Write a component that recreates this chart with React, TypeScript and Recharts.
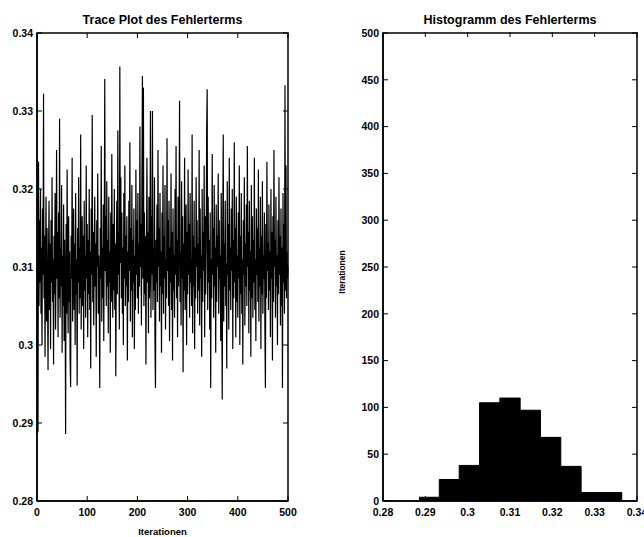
import React from 'react';
import { LineChart, Line, ComposedChart, Area, XAxis, YAxis, ReferenceArea } from 'recharts';

// ---------- data ----------
const traceValues: number[] = [
  0.3105, 0.2888, 0.3235, 0.3050, 0.3160, 0.3080, 0.3200, 0.3040, 0.3125, 0.3000, 0.3175, 0.3090, 0.3322, 0.3060, 0.3140, 0.2985, 0.3110, 0.3190, 0.3030, 0.3150,
  0.3070, 0.2968, 0.3120, 0.3185, 0.3045, 0.3130, 0.2995, 0.3160, 0.3080, 0.3215, 0.3055, 0.3110, 0.2975, 0.3140, 0.3065, 0.3195, 0.3020, 0.3100, 0.3250, 0.3085,
  0.3145, 0.3010, 0.3170, 0.3060, 0.3290, 0.3035, 0.3125, 0.3075, 0.3205, 0.2990, 0.3115, 0.3050, 0.3180, 0.3005, 0.3135, 0.3070, 0.2886, 0.3155, 0.3040, 0.3225,
  0.3090, 0.3015, 0.3165, 0.3055, 0.3120, 0.2980, 0.2946, 0.3140, 0.3085, 0.3240, 0.3030, 0.3105, 0.3175, 0.3045, 0.3130, 0.3000, 0.3195, 0.3065, 0.3110, 0.2948,
  0.3150, 0.3080, 0.3215, 0.3040, 0.3125, 0.3060, 0.3270, 0.3020, 0.3100, 0.3165, 0.3050, 0.3140, 0.2995, 0.3185, 0.3070, 0.3115, 0.3035, 0.3230, 0.3085, 0.3155,
  0.3010, 0.3135, 0.3065, 0.3200, 0.3045, 0.3120, 0.2970, 0.3175, 0.3090, 0.3295, 0.3055, 0.3145, 0.3025, 0.3110, 0.3190, 0.3075, 0.3130, 0.2985, 0.3160, 0.3100,
  0.3220, 0.3040, 0.3115, 0.3070, 0.2945, 0.3150, 0.3085, 0.3255, 0.3030, 0.3125, 0.3060, 0.3180, 0.3005, 0.3140, 0.3341, 0.3095, 0.3165, 0.3050, 0.3210, 0.3075,
  0.3135, 0.3015, 0.3190, 0.3080, 0.3120, 0.2990, 0.3170, 0.3055, 0.3245, 0.3100, 0.3035, 0.3155, 0.3070, 0.3200, 0.3045, 0.3130, 0.2960, 0.3110, 0.3185, 0.3065,
  0.3275, 0.3090, 0.3145, 0.3020, 0.3357, 0.3105, 0.3215, 0.3060, 0.3170, 0.3040, 0.3125, 0.3000, 0.3195, 0.3085, 0.3230, 0.3050, 0.3140, 0.3075, 0.3165, 0.2980,
  0.3120, 0.3055, 0.3185, 0.3095, 0.3260, 0.3030, 0.3150, 0.3070, 0.3205, 0.3010, 0.3135, 0.3080, 0.3175, 0.2995, 0.3115, 0.3045, 0.3225, 0.3090, 0.3160, 0.3060,
  0.3195, 0.3040, 0.3130, 0.3075, 0.3280, 0.3100, 0.3155, 0.3025, 0.3210, 0.3345, 0.3085, 0.3330, 0.3050, 0.3170, 0.3065, 0.3140, 0.2975, 0.3120, 0.3240, 0.3080,
  0.3145, 0.3015, 0.3190, 0.3060, 0.3110, 0.3300, 0.3035, 0.3165, 0.3090, 0.3300, 0.3045, 0.3125, 0.3070, 0.3215, 0.3005, 0.2945, 0.3135, 0.3080, 0.3180, 0.3055,
  0.3250, 0.3100, 0.3150, 0.3030, 0.3195, 0.3075, 0.3120, 0.2990, 0.3170, 0.3065, 0.3230, 0.3040, 0.3140, 0.3085, 0.3205, 0.3020, 0.3110, 0.3060, 0.3265, 0.3095,
  0.3160, 0.3050, 0.3185, 0.3005, 0.3125, 0.3080, 0.3220, 0.3045, 0.3145, 0.2980, 0.3175, 0.3070, 0.3115, 0.3035, 0.3200, 0.3090, 0.3255, 0.3060, 0.3135, 0.3010,
  0.3190, 0.3075, 0.3150, 0.3313, 0.3055, 0.3120, 0.3025, 0.3210, 0.3085, 0.3165, 0.2965, 0.3130, 0.3070, 0.3240, 0.3045, 0.3105, 0.3180, 0.3000, 0.3145, 0.3065,
  0.3225, 0.3090, 0.3155, 0.3035, 0.3195, 0.3080, 0.3110, 0.3050, 0.3270, 0.3015, 0.3140, 0.3075, 0.3185, 0.2995, 0.3125, 0.3060, 0.3215, 0.3100, 0.3160, 0.3040,
  0.3130, 0.3070, 0.3250, 0.3025, 0.3175, 0.3085, 0.3115, 0.2985, 0.3200, 0.3055, 0.3145, 0.3095, 0.3230, 0.3010, 0.3165, 0.3065, 0.3120, 0.3280, 0.3328, 0.3045,
  0.3190, 0.3080, 0.3135, 0.3020, 0.3170, 0.2945, 0.3110, 0.3060, 0.3245, 0.3090, 0.3150, 0.3035, 0.3205, 0.3075, 0.3125, 0.2990, 0.3180, 0.3055, 0.3140, 0.3100,
  0.3220, 0.3040, 0.3160, 0.3085, 0.3115, 0.3005, 0.3195, 0.3065, 0.2930, 0.3145, 0.3270, 0.3030, 0.3130, 0.3075, 0.3185, 0.3050, 0.3105, 0.2970, 0.3210, 0.3090,
  0.3155, 0.3020, 0.3240, 0.3070, 0.3125, 0.3045, 0.3175, 0.3095, 0.3200, 0.2995, 0.3135, 0.3060, 0.3260, 0.3080, 0.3150, 0.3010, 0.3190, 0.3055, 0.3115, 0.3035,
  0.3170, 0.3085, 0.3230, 0.3000, 0.3140, 0.3065, 0.3195, 0.3040, 0.3110, 0.2975, 0.3160, 0.3090, 0.3215, 0.3025, 0.3130, 0.3075, 0.3180, 0.3050, 0.3255, 0.3100,
  0.3145, 0.3015, 0.3185, 0.3070, 0.3120, 0.2985, 0.3205, 0.3060, 0.3165, 0.3035, 0.3135, 0.3080, 0.3240, 0.3045, 0.3110, 0.3005, 0.3175, 0.3090, 0.3150, 0.3055,
  0.3225, 0.3030, 0.3125, 0.3075, 0.3190, 0.2995, 0.3140, 0.3065, 0.3210, 0.3040, 0.3115, 0.3085, 0.3170, 0.3020, 0.2945, 0.3155, 0.3060, 0.3235, 0.3095, 0.3130,
  0.3045, 0.3180, 0.3070, 0.3120, 0.3010, 0.3200, 0.3085, 0.3145, 0.2980, 0.3165, 0.3055, 0.3250, 0.3100, 0.3135, 0.3035, 0.3190, 0.3075, 0.3115, 0.3000, 0.3160,
  0.3065, 0.3215, 0.3090, 0.3140, 0.3025, 0.3175, 0.3050, 0.3125, 0.2945, 0.3195, 0.3080, 0.3155, 0.3040, 0.3333, 0.3070, 0.3230, 0.3060, 0.3120, 0.3085, 0.3100,
];

const traceXTicks = [0, 100, 200, 300, 400, 500];
const traceYTicks = [0.28, 0.29, 0.3, 0.31, 0.32, 0.33, 0.34];

const histEdges = [0.2885, 0.2933, 0.2980, 0.3028, 0.3076, 0.3124, 0.3172, 0.3220, 0.3268, 0.3316, 0.3364];
const histCounts = [4, 23, 38, 105, 110, 97, 68, 37, 9, 9];
const histXTicks = [0.28, 0.29, 0.3, 0.31, 0.32, 0.33, 0.34];
const histYTicks = [0, 50, 100, 150, 200, 250, 300, 350, 400, 450, 500];

const titleLeft = 'Trace Plot des Fehlerterms';
const titleRight = 'Histogramm des Fehlerterms';
const axisLabel = 'Iterationen';

// ---------- derived tables ----------
const traceData = traceValues.map((v, i) => ({ it: i + 1, v }));
const histData = histEdges.map((e, i) => ({ x: e, count: i < histCounts.length ? histCounts[i] : 0 }));

const FONT = "'Liberation Sans', Arial, Helvetica, sans-serif";
const TICK_FS = 10.5;
const TL = 5; // inward tick length
const fmt = (v: number) => String(Number(Number(v).toFixed(2)));

// plot-area sizes (for the mirrored inward ticks on the opposite side of the box)
const L_PLOT_W = 251;
const L_PLOT_H = 468;
const R_PLOT_W = 254;
const R_PLOT_H = 469;

const makeLeftTick = (plotW: number) => (p: any) => {
  const ax = p.x + 4;
  return (
    <g>
      <line x1={ax} y1={p.y} x2={ax + TL} y2={p.y} stroke="#000" strokeWidth={1} />
      <line x1={ax + plotW} y1={p.y} x2={ax + plotW - TL} y2={p.y} stroke="#000" strokeWidth={1} />
      <text x={p.x} y={p.y} dy={3.8} textAnchor="end" fontSize={TICK_FS} fontWeight="bold" fontFamily={FONT} fill="#000">
        {fmt(p.payload.value)}
      </text>
    </g>
  );
};
const makeBottomTick = (plotH: number) => (p: any) => {
  const ay = p.y - 7;
  return (
    <g>
      <line x1={p.x} y1={ay} x2={p.x} y2={ay - TL} stroke="#000" strokeWidth={1} />
      <line x1={p.x} y1={ay - plotH} x2={p.x} y2={ay - plotH + TL} stroke="#000" strokeWidth={1} />
      <text x={p.x} y={p.y} dy={7.5} textAnchor="middle" fontSize={TICK_FS} fontWeight="bold" fontFamily={FONT} fill="#000">
        {fmt(p.payload.value)}
      </text>
    </g>
  );
};

const Title = ({ text, left, width }: { text: string; left: number; width: number }) => (
  <div
    style={{
      position: 'absolute',
      left,
      width,
      top: 14,
      textAlign: 'center',
      fontFamily: FONT,
      fontWeight: 'bold',
      fontSize: 12.5,
      lineHeight: '13px',
      color: '#000',
      whiteSpace: 'nowrap',
    }}
  >
    {text}
  </div>
);

const axisStroke = { stroke: '#000', strokeWidth: 1.5 };

export default function App() {
  return (
    <div style={{ position: 'absolute', left: 0, top: 0, width: 644, height: 537, background: '#fff', overflow: 'hidden' }}>
      <Title text={titleLeft} left={37} width={251} />
      <Title text={titleRight} left={383} width={254} />

      <div style={{ position: 'absolute', left: 0, top: 0 }}>
        <LineChart width={322} height={537} data={traceData} margin={{ top: 33, right: 34, bottom: 0, left: 0 }}>
          <XAxis
            dataKey="it"
            type="number"
            domain={[0, 500]}
            ticks={traceXTicks}
            height={36}
            tickSize={0}
            tickMargin={7}
            tickLine={false}
            axisLine={axisStroke}
            tick={makeBottomTick(L_PLOT_H)}
            interval={0}
            label={{
              content: (lp: any) => {
                const vb = lp.viewBox;
                return (
                  <text x={vb.x + vb.width / 2} y={vb.y + 34} textAnchor="middle" fontSize={9.5} fontWeight="bold" fontFamily={FONT} fill="#000">
                    {axisLabel}
                  </text>
                );
              },
            }}
          />
          <YAxis
            type="number"
            domain={[0.28, 0.34]}
            ticks={traceYTicks}
            width={37}
            tickSize={0}
            tickMargin={4}
            tickLine={false}
            axisLine={axisStroke}
            tick={makeLeftTick(L_PLOT_W)}
            interval={0}
            allowDataOverflow
          />
          <ReferenceArea x1={0} x2={500} y1={0.28} y2={0.34} fill="none" fillOpacity={0} stroke="#000" strokeWidth={1.5} ifOverflow="visible" />
          <Line
            type="linear"
            dataKey="v"
            stroke="#000"
            strokeWidth={1.2}
            dot={false}
            activeDot={false}
            isAnimationActive={false}
          />
        </LineChart>
      </div>

      <div style={{ position: 'absolute', left: 322, top: 0 }}>
        <ComposedChart width={322} height={537} data={histData} margin={{ top: 33, right: 7, bottom: 0, left: 0 }}>
          <XAxis
            dataKey="x"
            type="number"
            domain={[0.28, 0.34]}
            ticks={histXTicks}
            height={36}
            tickSize={0}
            tickMargin={7}
            tickLine={false}
            axisLine={axisStroke}
            tick={makeBottomTick(R_PLOT_H)}
            interval={0}
            allowDataOverflow
          />
          <YAxis
            type="number"
            domain={[0, 500]}
            ticks={histYTicks}
            width={61}
            tickSize={0}
            tickMargin={4}
            tickLine={false}
            axisLine={axisStroke}
            tick={makeLeftTick(R_PLOT_W)}
            interval={0}
            label={{
              content: (lp: any) => {
                const vb = lp.viewBox;
                const cx = vb.x + 23;
                const cy = vb.y + vb.height / 2 + 5;
                return (
                  <text x={cx} y={cy} transform={`rotate(-90, ${cx}, ${cy})`} textAnchor="middle" fontSize={8.5} fontWeight="bold" fontFamily={FONT} fill="#000">
                    {axisLabel}
                  </text>
                );
              },
            }}
          />
          <ReferenceArea x1={0.28} x2={0.34} y1={0} y2={500} fill="none" fillOpacity={0} stroke="#000" strokeWidth={1.5} ifOverflow="visible" />
          <Area
            type="stepAfter"
            dataKey="count"
            stroke="#000"
            strokeWidth={1}
            fill="#000"
            fillOpacity={1}
            dot={false}
            activeDot={false}
            isAnimationActive={false}
          />
        </ComposedChart>
      </div>
    </div>
  );
}
